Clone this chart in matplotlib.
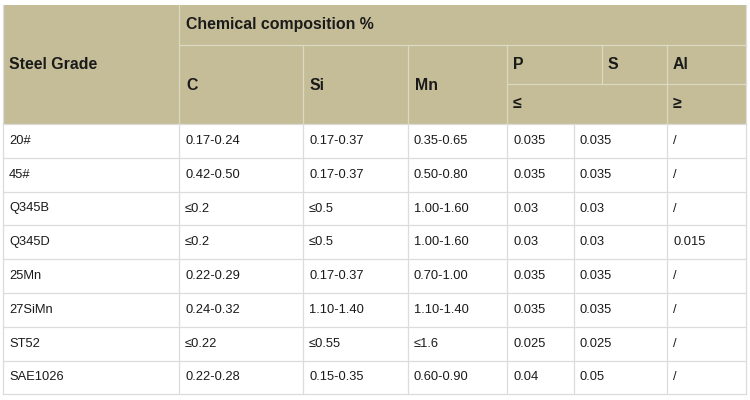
import matplotlib.pyplot as plt
from matplotlib.patches import Rectangle

plt.rcParams['font.family'] = ['Liberation Sans', 'DejaVu Sans']

# table content
grades = ['20#', '45#', 'Q345B', 'Q345D', '25Mn', '27SiMn', 'ST52', 'SAE1026']
c_vals = ['0.17-0.24', '0.42-0.50', '≤0.2', '≤0.2', '0.22-0.29', '0.24-0.32', '≤0.22', '0.22-0.28']
si_vals = ['0.17-0.37', '0.17-0.37', '≤0.5', '≤0.5', '0.17-0.37', '1.10-1.40', '≤0.55', '0.15-0.35']
mn_vals = ['0.35-0.65', '0.50-0.80', '1.00-1.60', '1.00-1.60', '0.70-1.00', '1.10-1.40', '≤1.6', '0.60-0.90']
p_vals = ['0.035', '0.035', '0.03', '0.03', '0.035', '0.035', '0.025', '0.04']
s_vals = ['0.035', '0.035', '0.03', '0.03', '0.035', '0.035', '0.025', '0.05']
al_vals = ['/', '/', '/', '0.015', '/', '/', '/', '/']

header_top = 'Chemical composition %'
header_first = 'Steel Grade'
header_elems = ['C', 'Si', 'Mn']
header_limits = ['P', 'S', 'Al']
header_signs = ['≤', '≥']

# layout in pixels
xs = [3, 179, 303, 408, 507, 574, 667, 746]
x_ps = 602
hy = [5, 45, 84, 124]
row_h = 33.8
pad = 6

head_bg = '#C4BD97'
head_line = '#DCD8C2'
grid_line = '#DCDCDC'
txt = '#1a1a1a'
lw = 0.9

fig = plt.figure(figsize=(7.5, 4), dpi=100)
ax = fig.add_axes([0, 0, 1, 1])
ax.set_xlim(0, 750)
ax.set_ylim(400, 0)
ax.axis('off')

# header block
ax.add_patch(Rectangle((xs[0], hy[0]), xs[-1] - xs[0], hy[3] - hy[0],
                       facecolor=head_bg, edgecolor='none'))
hl = dict(color=head_line, lw=lw)
ax.plot([xs[1], xs[1]], [hy[0], hy[3]], **hl)
ax.plot([xs[1], xs[-1]], [hy[1], hy[1]], **hl)
for x in xs[2:5]:
    ax.plot([x, x], [hy[1], hy[3]], **hl)
ax.plot([xs[4], xs[-1]], [hy[2], hy[2]], **hl)
ax.plot([x_ps, x_ps], [hy[1], hy[2]], **hl)
ax.plot([xs[6], xs[6]], [hy[1], hy[3]], **hl)

hfont = dict(fontsize=11.4, fontweight='bold', color=txt, va='center', ha='left')
ax.text(xs[0] + pad, (hy[0] + hy[3]) / 2, header_first, **hfont)
ax.text(xs[1] + pad + 1, (hy[0] + hy[1]) / 2, header_top, **hfont)
for i, lab in enumerate(header_elems):
    ax.text(xs[1 + i] + pad + 1, (hy[1] + hy[3]) / 2 + 1, lab, **hfont)
for x0, lab in zip([xs[4], x_ps, xs[6]], header_limits):
    ax.text(x0 + pad, (hy[1] + hy[2]) / 2, lab, **hfont)
for x0, lab in zip([xs[4], xs[6]], header_signs):
    ax.text(x0 + pad, (hy[2] + hy[3]) / 2, lab, **hfont)

# data rows
cols = [grades, c_vals, si_vals, mn_vals, p_vals, s_vals, al_vals]
n = len(grades)
y_end = hy[3] + n * row_h
gl = dict(color=grid_line, lw=lw)
for r in range(n + 1):
    y = hy[3] + r * row_h
    ax.plot([xs[0], xs[-1]], [y, y], **gl)
for x in xs:
    ax.plot([x, x], [hy[3], y_end], **gl)
ax.plot([xs[0], xs[0]], [hy[0], hy[3]], **gl)
ax.plot([xs[-1], xs[-1]], [hy[0], hy[3]], **gl)

for c, vals in enumerate(cols):
    for r, v in enumerate(vals):
        ax.text(xs[c] + pad, hy[3] + (r + 0.5) * row_h, v,
                fontsize=9.3, color=txt, va='center', ha='left')

fig.savefig('out.png', dpi=100)
